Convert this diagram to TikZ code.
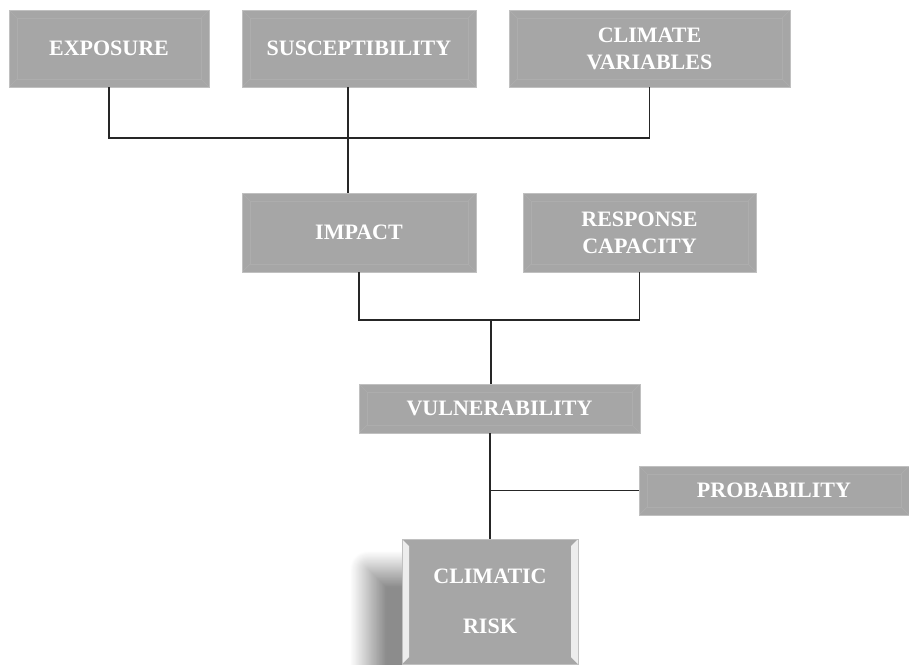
\documentclass[tikz,border=0pt]{standalone}
\usepackage{fontspec}
\setmainfont{Liberation Serif}
\usepackage{xcolor}
\usetikzlibrary{positioning, calc, shadows.blur}

\definecolor{boxgray}{RGB}{166,166,166}
\definecolor{edgegray}{RGB}{192,192,192}
\definecolor{bevelgray}{RGB}{173,173,173}

\begin{document}
\begin{tikzpicture}[
  x=1pt,
  y=-1pt,
  font=\fontsize{22}{27}\selectfont\bfseries,
  bevel/.style={path picture={
    \draw[bevelgray, line width=0.7pt]
      ($(path picture bounding box.north west)+(8pt,-8pt)$) rectangle ($(path picture bounding box.south east)+(-8pt,8pt)$);
    \draw[bevelgray, line width=0.7pt] (path picture bounding box.north west) -- ++(8pt,-8pt);
    \draw[bevelgray, line width=0.7pt] (path picture bounding box.north east) -- ++(-8pt,-8pt);
    \draw[bevelgray, line width=0.7pt] (path picture bounding box.south west) -- ++(8pt,8pt);
    \draw[bevelgray, line width=0.7pt] (path picture bounding box.south east) -- ++(-8pt,8pt);
  }},
  sidebevel/.style={path picture={
    \fill[white!80!boxgray] (path picture bounding box.north west) -- ++(7pt,-7pt)
      -- ($(path picture bounding box.south west)+(7pt,7pt)$) -- (path picture bounding box.south west) -- cycle;
    \fill[white!80!boxgray] (path picture bounding box.north east) -- ++(-7pt,-7pt)
      -- ($(path picture bounding box.south east)+(-7pt,7pt)$) -- (path picture bounding box.south east) -- cycle;
  }},
  factor/.style={rectangle, fill=boxgray, draw=edgegray, line width=0.8pt, text=white, align=center, inner sep=0pt, bevel},
  link/.style={line width=1.2pt, draw=black!85}
]

\useasboundingbox (0,0) rectangle (909,664);

% Factor boxes
\node[factor, minimum width=200, minimum height=77] (expo) at (109,48.5) {EXPOSURE};
\node[factor, minimum width=234, minimum height=77] (susc) at (359,48.5) {SUSCEPTIBILITY};
\node[factor, minimum width=281, minimum height=77] (clim) at (649.5,48.5) {CLIMATE\\VARIABLES};
\node[factor, minimum width=234, minimum height=79] (impact) at (359,232.5) {IMPACT};
\node[factor, minimum width=233, minimum height=79] (resp) at (639.5,232.5) {RESPONSE\\CAPACITY};
\node[factor, minimum width=281, minimum height=49] (vuln) at (499.5,408.5) {VULNERABILITY};
\node[factor, minimum width=270, minimum height=49] (prob) at (774,490.5) {PROBABILITY};
\node[factor, sidebevel, minimum width=176, minimum height=125,
  blur shadow={shadow xshift=-34pt, shadow yshift=-30pt, shadow blur radius=18pt, shadow blur steps=30, shadow opacity=45}]
  (risk) at (490,601.5) {CLIMATIC\\[23pt]RISK};

% Joints
\coordinate (topjoin) at (348,138);
\coordinate (midjoin) at (491,320);
\coordinate (probjoin) at (risk.north |- prob.west);

% Connectors
\draw[link] (expo.south) |- (topjoin) -| (clim.south);
\draw[link] (susc.south -| topjoin) -- (impact.north -| topjoin);
\draw[link] (impact.south) |- (midjoin) -| (resp.south);
\draw[link] (midjoin) -- (vuln.north -| midjoin);
\draw[link] (vuln.south -| risk.north) -- (risk.north);
\draw[link] (probjoin) -- (prob.west);

\end{tikzpicture}
\end{document}
